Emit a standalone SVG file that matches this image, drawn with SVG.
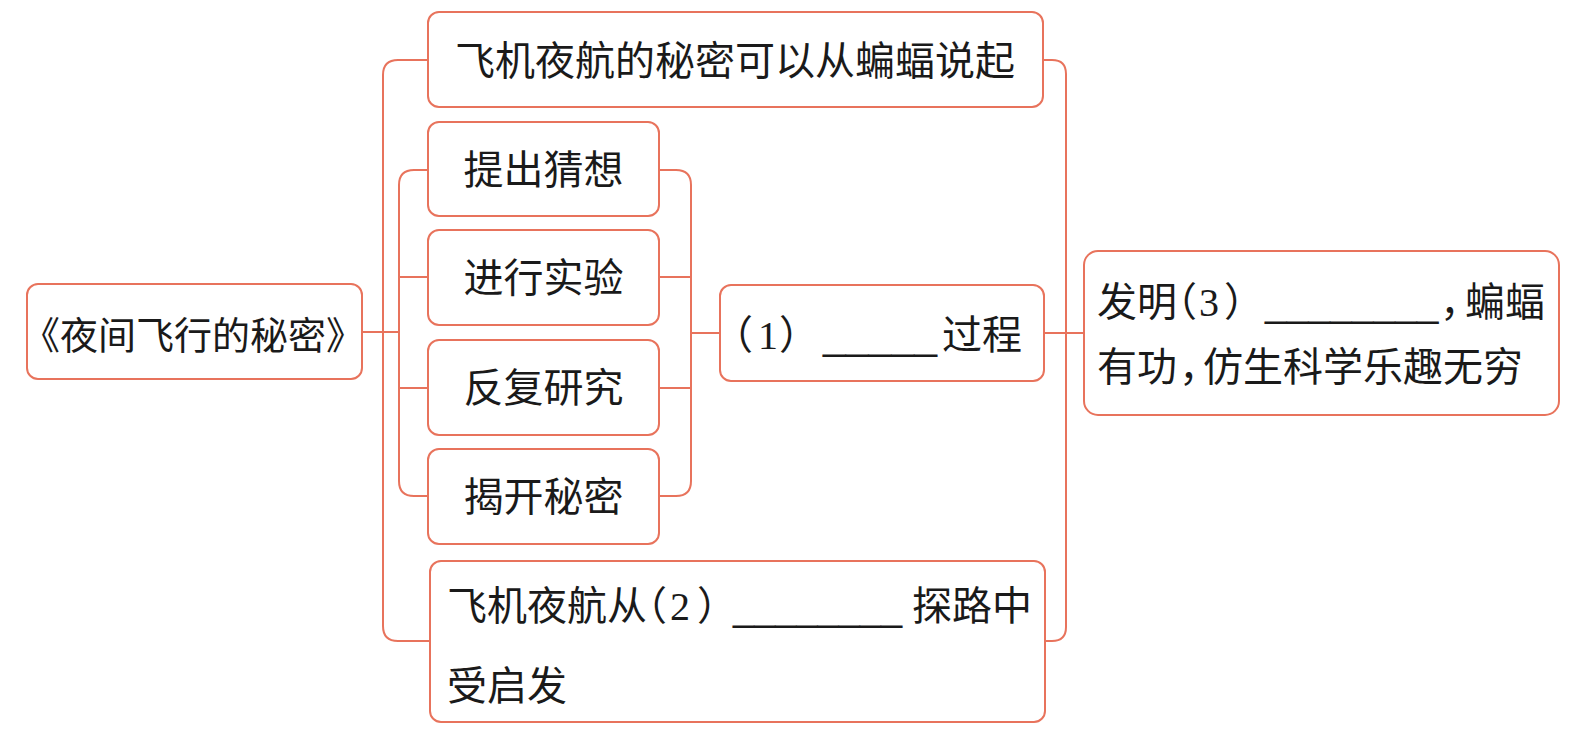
<svg xmlns="http://www.w3.org/2000/svg" width="1580" height="740" viewBox="0 0 1580 740">
<style>
.box{fill:#fff;stroke:#e8735c;stroke-width:2}
.con{fill:none;stroke:#e8735c;stroke-width:2}
.t{font-family:"Noto Sans CJK SC","Noto Sans",sans-serif;font-size:40px;fill:#1a1a1a}
.num{font-family:"Liberation Serif","Noto Sans CJK SC",serif}
.p{font-feature-settings:"halt" 1}
.ul{font-family:"Liberation Sans",sans-serif}
</style>
<rect width="1580" height="740" fill="#fff"/>
<g id="connectors">
<path class="con" d="M362,332 H399"/>
<path class="con" d="M428,60 H398 Q383,60 383,75 V626 Q383,641 398,641 H430"/>
<path class="con" d="M428,170 H414 Q399,170 399,185 V481 Q399,496 414,496 H428 M399,277 H428 M399,388 H428"/>
<path class="con" d="M659,170 H676 Q691,170 691,185 V481 Q691,496 676,496 H659 M659,277 H691 M659,388 H691 M691,333 H720"/>
<path class="con" d="M1043,60 H1052 Q1066,60 1066,74 V627 Q1066,641 1052,641 H1045 M1044,333 H1084"/>
</g>
<g id="root">
<rect class="box" x="27" y="284" width="335" height="95" rx="11"/>
<text class="t" x="193" y="349" text-anchor="middle" style="font-size:38px">《夜间飞行的秘密》</text>
</g>
<g id="n-top">
<rect class="box" x="428" y="12" width="615" height="95" rx="11"/>
<text class="t" x="455" y="75">飞机夜航的秘密可以从蝙蝠说起</text>
</g>
<g id="n-guess">
<rect class="box" x="428" y="122" width="231" height="94" rx="11"/>
<text class="t" x="543.5" y="184" text-anchor="middle">提出猜想</text>
</g>
<g id="n-exp">
<rect class="box" x="428" y="230" width="231" height="95" rx="11"/>
<text class="t" x="543.5" y="292" text-anchor="middle">进行实验</text>
</g>
<g id="n-study">
<rect class="box" x="428" y="340" width="231" height="95" rx="11"/>
<text class="t" x="543.5" y="402" text-anchor="middle">反复研究</text>
</g>
<g id="n-reveal">
<rect class="box" x="428" y="449" width="231" height="95" rx="11"/>
<text class="t" x="543.5" y="511" text-anchor="middle">揭开秘密</text>
</g>
<g id="n-process">
<rect class="box" x="720" y="285" width="324" height="96" rx="11"/>
<text class="t" y="349"><tspan class="p" x="733">（</tspan><tspan class="num" x="758">1</tspan><tspan class="p" x="779">）</tspan><tspan class="ul" x="823" style="font-size:41px">_____</tspan><tspan x="942">过程</tspan></text>
</g>
<g id="n-bottom">
<rect class="box" x="430" y="561" width="615" height="161" rx="11"/>
<text class="t" y="620"><tspan x="447">飞机夜航从</tspan><tspan class="p" x="647">（</tspan><tspan class="num" x="670">2</tspan><tspan class="p" x="697">）</tspan><tspan class="ul" x="733" style="font-size:38px">________</tspan><tspan x="912">探路中</tspan></text>
<text class="t" x="447" y="700">受启发</text>
</g>
<g id="n-right">
<rect class="box" x="1084" y="251" width="475" height="164" rx="14"/>
<text class="t" y="316"><tspan x="1097">发明</tspan><tspan class="p" x="1177">（</tspan><tspan class="num" x="1199">3</tspan><tspan class="p" x="1224">）</tspan><tspan class="ul" x="1265" style="font-size:39px">________</tspan><tspan class="p" x="1440">，</tspan><tspan x="1465">蝙蝠</tspan></text>
<text class="t" y="381"><tspan x="1097">有功</tspan><tspan class="p" x="1179">，</tspan><tspan x="1203">仿生科学乐趣无穷</tspan></text>
</g>
</svg>
